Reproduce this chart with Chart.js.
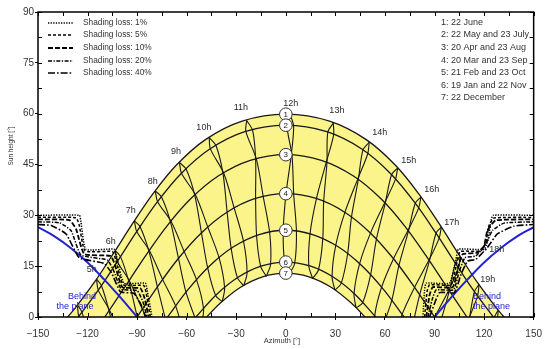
<!DOCTYPE html>
<html>
<head>
<meta charset="utf-8">
<script src="https://cdn.jsdelivr.net/npm/chart.js@4.4.1/dist/chart.umd.min.js"></script>
<style>
  html, body { margin: 0; padding: 0; background: #fff; }
</style>
</head>
<body>
<canvas id="chart" width="550" height="349"></canvas>
<script>
"use strict";

// sun paths, [azimuth, height] in degrees
const pathJune = [[-132.1,0],[-127.3,2.75],[-115.74,10.33],[-104.43,18.68],[-92.9,27.46],[-80.48,36.33],[-66.2,44.84],[-48.66,52.34],[-26.45,57.79],[0,59.84],[26.45,57.79],[48.66,52.34],[66.2,44.84],[80.48,36.33],[92.9,27.46],[104.43,18.68],[115.74,10.33],[127.3,2.75],[132.1,0]];
const pathMay = [[-125.6,0],[-113.83,7.69],[-102.31,16.14],[-90.59,24.96],[-77.99,33.81],[-63.61,42.2],[-46.24,49.48],[-24.83,54.67],[0,56.6],[24.83,54.67],[46.24,49.48],[63.61,42.2],[77.99,33.81],[90.59,24.96],[102.31,16.14],[113.83,7.69],[125.6,0]];
const pathApr = [[-109.6,0],[-96.89,9.24],[-84.82,18.12],[-71.98,26.83],[-57.62,34.87],[-40.94,41.61],[-21.51,46.24],[0,47.9],[21.51,46.24],[40.94,41.61],[57.62,34.87],[71.98,26.83],[84.82,18.12],[96.89,9.24],[109.6,0]];
const pathMar = [[-90,0],[-77.83,8.84],[-65.07,17.26],[-51.16,24.81],[-35.65,30.92],[-18.41,34.98],[0,36.4],[18.41,34.98],[35.65,30.92],[51.16,24.81],[65.07,17.26],[77.83,8.84],[90,0]];
const pathFeb = [[-71.6,0],[-59.22,8.09],[-46.02,15.15],[-31.68,20.73],[-16.2,24.34],[0,25.6],[16.2,24.34],[31.68,20.73],[46.02,15.15],[59.22,8.09],[71.6,0]];
const pathJan = [[-54.4,0],[-41.92,6.66],[-28.64,11.79],[-14.57,15.07],[0,16.2],[14.57,15.07],[28.64,11.79],[41.92,6.66],[54.4,0]];
const pathDec = [[-47.9,0],[-40.55,3.71],[-27.65,8.7],[-14.04,11.86],[0,12.96],[14.04,11.86],[27.65,8.7],[40.55,3.71],[47.9,0]];

// hour lines: first half of the year, second half of the year (June -> December)
const hour4 = [
  [[-126.11,3.53],[-123.39,1.44],[-119.29,-6.28]],
  [[-126.11,3.53],[-125.31,0.18],[-119.0,-6.09]]
];
const hour5 = [
  [[-114.57,11.19],[-111.64,9.3],[-107.03,1.87],[-102.09,-8.78]],
  [[-114.57,11.19],[-113.52,7.92],[-106.75,2.07],[-99.01,-6.54]]
];
const hour6 = [
  [[-103.24,19.59],[-100.08,17.82],[-95.08,10.57],[-89.92,0.06],[-84.7,-9.5]],
  [[-103.24,19.59],[-102.0,16.38],[-94.8,10.78],[-86.84,2.3],[-78.8,-5.23]]
];
const hour7 = [
  [[-91.62,28.38],[-88.2,26.64],[-82.89,19.43],[-77.74,8.9],[-72.75,-0.84]],
  [[-91.62,28.38],[-90.25,25.2],[-82.59,19.63],[-74.51,11.03],[-66.68,3.21],[-61.84,-4.86]]
];
const hour8 = [
  [[-79.0,37.21],[-75.26,35.4],[-69.83,28.04],[-64.98,17.31],[-60.42,7.31],[-54.92,-0.33]],
  [[-79.0,37.21],[-77.61,34.03],[-69.49,28.22],[-61.45,19.22],[-53.98,10.89],[-49.8,2.46],[-50.76,-1.72]]
];
const hour9 = [
  [[-64.39,45.61],[-60.31,43.58],[-55.12,35.88],[-51.06,24.85],[-47.3,14.47],[-42.5,6.35],[-38.49,4.51]],
  [[-64.39,45.61],[-63.15,42.39],[-54.73,36.04],[-47.13,26.4],[-40.33,17.36],[-37.05,8.54],[-38.49,4.51]]
];
const hour10 = [
  [[-46.37,52.9],[-42.17,50.47],[-38.03,42.3],[-35.53,30.95],[-33.07,20.19],[-29.26,11.55],[-25.47,9.21]],
  [[-46.37,52.9],[-45.67,49.62],[-37.57,42.41],[-31.17,31.98],[-25.54,22.16],[-23.48,12.99],[-25.47,9.21]]
];
const hour11 = [
  [[-23.72,58.0],[-20.11,55.04],[-18.28,46.49],[-18.29,34.99],[-17.7,23.99],[-15.23,14.92],[-11.79,12.04]],
  [[-23.72,58.0],[-24.17,54.72],[-17.78,46.53],[-13.62,35.35],[-9.77,24.84],[-9.23,15.48],[-11.79,12.04]]
];
const hour12 = [
  [[2.73,59.63],[4.72,56.23],[3.23,47.65],[0.12,36.39],[-1.57,25.48],[-0.68,16.15],[2.25,12.78]],
  [[2.73,59.63],[0.66,56.55],[3.73,47.61],[4.79,36.03],[6.43,25.1],[5.34,15.79],[2.25,12.78]]
];
const hour13 = [
  [[28.74,57.23],[28.9,53.68],[24.42,45.55],[18.53,34.95],[14.63,24.46],[13.89,15.12],[16.22,11.35]],
  [[28.74,57.23],[25.4,54.53],[24.88,45.44],[22.89,33.92],[22.34,22.91],[19.73,13.87],[16.22,11.35]]
];
const hour14 = [
  [[50.47,51.57],[49.54,48.1],[43.44,40.6],[35.75,30.88],[30.18,21.08],[27.98,11.94],[29.71,7.9]],
  [[50.47,51.57],[46.7,49.29],[43.83,40.44],[39.68,29.33],[37.37,18.52],[33.51,9.91],[29.71,7.9]]
];
const hour15 = [
  [[67.68,43.96],[66.34,40.61],[59.77,33.66],[51.25,24.76],[44.63,15.69],[41.3,6.9],[42.49,2.68]],
  [[67.68,43.96],[63.99,41.98],[60.11,33.48],[54.78,22.85],[51.26,12.35],[46.49,4.23],[42.49,2.68]]
];
const hour16 = [
  [[81.76,35.41],[80.38,32.13],[73.91,25.52],[65.16,17.2],[57.94,8.77],[53.79,0.34],[54.6,-3.95]],
  [[81.76,35.41],[78.33,33.57],[74.21,25.32],[68.39,15.07],[64.13,4.88],[58.7,-2.8]]
];
const hour17 = [
  [[94.09,26.55],[92.82,23.28],[86.63,16.79],[77.91,8.78],[70.39,0.78],[65.62,-7.33]],
  [[94.09,26.55],[90.9,24.72],[86.91,16.58],[80.99,6.54],[76.33,-3.44]]
];
const hour18 = [
  [[105.6,17.82],[104.5,14.53],[98.68,7.94],[90.08,-0.06]],
  [[105.6,17.82],[102.62,15.91],[98.96,7.74],[93.16,-2.3]]
];
const hour19 = [
  [[116.93,9.55],[116.07,6.22],[110.67,-0.64]],
  [[116.93,9.55],[114.15,7.48],[110.96,-0.83]]
];
const hour20 = [
  [[128.56,2.08],[128.0,-1.29]],
  [[128.56,2.08],[125.96,-0.21]]
];

// shading loss horizons, left and right
const loss1Left  = [[-150,30],[-125,30],[-124,28],[-121,20],[-104,20],[-102.5,18],[-98,10],[-85,10],[-84,8],[-81,0]];
const loss5Left  = [[-150,29.4],[-127,29.3],[-125,27],[-121.5,19.5],[-105,19.3],[-103,17],[-98.5,9.5],[-86,9.3],[-84.5,7],[-82,0]];
const loss10Left = [[-150,28.8],[-131,28.6],[-127,26],[-122,18.6],[-106,18],[-103.5,15.5],[-99,8.8],[-88,8.5],[-85.5,5.5],[-83,0]];
const loss20Left = [[-150,28.1],[-137,27.8],[-130,25.5],[-124,18.3],[-108,16.8],[-104.5,14],[-99.5,8.2],[-90,7.8],[-86.5,4.5],[-84,0]];
const loss40Left = [[-150,27.3],[-142,27],[-133,24.5],[-125,17.5],[-110,15.8],[-105.5,13],[-100,7.4],[-92,7],[-87.5,3.5],[-85,0]];
const loss1Right  = [[83,0],[84,8],[85,10],[99,10],[103,17],[104.5,20],[120,20],[122.5,23],[124,28],[125.5,30],[150,30]];
const loss5Right  = [[84,0],[85.5,7.5],[87,9.5],[100,9.5],[103.5,16],[105.5,19.3],[118,19.5],[121,22],[123,27],[126,29.2],[150,29.4]];
const loss10Right = [[85,0],[87,6.5],[89,8.8],[101,8.8],[104.5,15],[107,18.5],[116,19],[120,21],[122,25.5],[127,28.5],[150,28.8]];
const loss20Right = [[86,0],[88.5,5],[91,8],[101.5,8],[105,13.5],[108.5,17.5],[115,18],[121,21.5],[125,25.5],[132,27.7],[150,28.1]];
const loss40Right = [[87,0],[90,4],[93,7.2],[102,7.2],[106,12.5],[110,16.5],[115,17],[122,20.5],[128,24.5],[138,26.8],[150,27.3]];
const lossLabels = ['Shading loss: 1%','Shading loss: 5%','Shading loss: 10%','Shading loss: 20%','Shading loss: 40%'];

// limit where the sun is behind the plane
const behindLeft  = [[-150,26.5],[-140,23.8],[-130,20.3],[-120,16.1],[-110,11.1],[-100,5.7],[-90,0]];
const behindRight = [[90,0],[100,5.7],[110,11.1],[120,16.1],[130,20.3],[140,23.8],[150,26.5]];

// noon markers
const dayNumbers = ['1','2','3','4','5','6','7'];
const noonHeights = [59.84,56.6,47.9,36.4,25.6,16.2,12.96];
const dayLabels = ['1: 22 June','2: 22 May and 23 July','3: 20 Apr and 23 Aug','4: 20 Mar and 23 Sep','5: 21 Feb and 23 Oct','6: 19 Jan and 22 Nov','7: 22 December'];

const hourNames = ['5h','6h','7h','8h','9h','10h','11h','12h','13h','14h','15h','16h','17h','18h','19h'];
const hourNameSpots = [[-117.4,13.9],[-105.9,22.4],[-93.8,31.3],[-80.5,40.1],[-66.5,48.7],[-49.6,55.8],[-27.2,61.7],[3.0,62.9],[30.9,60.8],[56.9,54.3],[74.4,46.3],[88.3,37.5],[100.4,28.0],[127.6,19.8],[122.2,11.2]];

const FONT = "'Liberation Sans', Arial, sans-serif";
const YELLOW = '#faf48a';
const BLUE = '#2323d2';
const lossDash = [[1.3,1.3],[3,2],[5,2],[4,1.5,1.3,1.5],[7,2,1.6,2]];
const lossWidth = [1.5,1.5,1.8,1.5,1.6];

const xy = pts => pts.map(p => ({x: p[0], y: p[1]}));

const datasets = [];

function line(pts, extra) {
  return Object.assign({
    data: xy(pts),
    borderColor: '#181818',
    borderWidth: 1.2,
    pointRadius: 0,
    tension: 0.35,
    fill: false,
    order: 1
  }, extra || {});
}

datasets.push(line(pathJune, {fill: 'origin', backgroundColor: YELLOW, order: 5, borderWidth: 1.3}));
datasets.push(line(pathDec, {fill: 'origin', backgroundColor: '#ffffff', order: 4, borderWidth: 1.3}));
[pathMay, pathApr, pathMar, pathFeb, pathJan].forEach(p => datasets.push(line(p, {borderWidth: 1.3})));

[hour4, hour5, hour6, hour7, hour8, hour9, hour10, hour11, hour12, hour13, hour14, hour15, hour16, hour17, hour18, hour19, hour20]
  .forEach(h => h.forEach(p => datasets.push(line(p, {tension: 0.3, borderWidth: 1.1}))));

const lossLeft = [loss1Left, loss5Left, loss10Left, loss20Left, loss40Left];
const lossRight = [loss1Right, loss5Right, loss10Right, loss20Right, loss40Right];
lossLeft.forEach((p, i) => datasets.push(line(p, {borderColor: '#000', borderWidth: lossWidth[i], borderDash: lossDash[i], tension: 0.15, order: 0})));
lossRight.forEach((p, i) => datasets.push(line(p, {borderColor: '#000', borderWidth: lossWidth[i], borderDash: lossDash[i], tension: 0.15, order: 0})));

datasets.push(line(behindLeft, {borderColor: BLUE, borderWidth: 2, tension: 0.4, order: 0}));
datasets.push(line(behindRight, {borderColor: BLUE, borderWidth: 2, tension: 0.4, order: 0}));

datasets.push({
  data: noonHeights.map(h => ({x: 0, y: h})),
  showLine: false,
  pointRadius: 6.3,
  pointBackgroundColor: '#ffffff',
  pointBorderColor: '#333',
  pointBorderWidth: 1,
  order: -1
});

const overlay = {
  id: 'overlay',
  afterDatasetsDraw(chart) {
    const {ctx, chartArea: a, scales: {x, y}} = chart;
    ctx.save();

    // numbers in the noon markers
    ctx.fillStyle = '#222';
    ctx.font = '8px ' + FONT;
    ctx.textAlign = 'center';
    ctx.textBaseline = 'middle';
    noonHeights.forEach((h, i) => ctx.fillText(dayNumbers[i], x.getPixelForValue(0), y.getPixelForValue(h) + 0.5));

    // hour labels
    ctx.font = '9px ' + FONT;
    ctx.fillStyle = '#2a2a2a';
    hourNames.forEach((t, i) => ctx.fillText(t, x.getPixelForValue(hourNameSpots[i][0]), y.getPixelForValue(hourNameSpots[i][1])));

    // behind the plane
    ctx.fillStyle = BLUE;
    ctx.fillText('Behind', x.getPixelForValue(-123.4), y.getPixelForValue(5.9));
    ctx.fillText('the plane', x.getPixelForValue(-127.6), y.getPixelForValue(3.2));
    ctx.textAlign = 'left';
    ctx.fillText('Behind', 473, y.getPixelForValue(5.9));
    ctx.fillText('the plane', 473, y.getPixelForValue(3.2));

    // shading legend
    ctx.fillStyle = '#333';
    ctx.font = '8.3px ' + FONT;
    const ly = [23, 35, 48, 61, 73];
    lossLabels.forEach((t, i) => {
      ctx.strokeStyle = '#000';
      ctx.lineWidth = lossWidth[i];
      ctx.setLineDash(lossDash[i]);
      ctx.beginPath();
      ctx.moveTo(48, ly[i]);
      ctx.lineTo(73, ly[i]);
      ctx.stroke();
      ctx.fillText(t, 83, ly[i]);
    });
    ctx.setLineDash([]);

    // date legend
    ctx.font = '9px ' + FONT;
    const dy = [23, 35, 48, 61, 73, 86, 98];
    dayLabels.forEach((t, i) => ctx.fillText(t, 441, dy[i]));

    // frame with inner ticks
    ctx.strokeStyle = '#000';
    ctx.lineWidth = 1.5;
    ctx.strokeRect(a.left, a.top, a.right - a.left, a.bottom - a.top);
    ctx.lineWidth = 1;
    ctx.beginPath();
    for (let v = -150; v <= 150; v += 15) {
      const px = Math.round(x.getPixelForValue(v)) + 0.5;
      ctx.moveTo(px, a.bottom); ctx.lineTo(px, a.bottom - 4);
      ctx.moveTo(px, a.top); ctx.lineTo(px, a.top + 4);
    }
    for (let v = 0; v <= 90; v += 7.5) {
      const py = Math.round(y.getPixelForValue(v)) + 0.5;
      ctx.moveTo(a.left, py); ctx.lineTo(a.left + 4, py);
      ctx.moveTo(a.right, py); ctx.lineTo(a.right - 4, py);
    }
    ctx.stroke();

    // axis titles
    ctx.fillStyle = '#333';
    ctx.textAlign = 'center';
    ctx.font = '7.5px ' + FONT;
    ctx.fillText('Azimuth [°]', 282, 341);
    ctx.translate(11, 146);
    ctx.rotate(-Math.PI / 2);
    ctx.font = '6.5px ' + FONT;
    ctx.fillText('Sun height [°]', 0, 0);
    ctx.restore();
  }
};

const minus = v => (v < 0 ? '\u2212' + Math.abs(v) : String(v));

new Chart(document.getElementById('chart'), {
  type: 'line',
  data: {datasets},
  options: {
    responsive: false,
    animation: false,
    devicePixelRatio: 1,
    layout: {padding: {top: 12, right: 16, bottom: 0, left: 0}},
    plugins: {legend: {display: false}, tooltip: {enabled: false}},
    scales: {
      x: {
        type: 'linear', min: -150, max: 150,
        ticks: {stepSize: 30, color: '#333', font: {size: 10, family: FONT}, padding: 8, callback: minus, maxRotation: 0},
        grid: {drawOnChartArea: false, tickLength: 3, color: '#000'},
        border: {display: false},
        afterFit(s) { s.height = 32; }
      },
      y: {
        min: 0, max: 90,
        ticks: {stepSize: 15, color: '#333', font: {size: 10, family: FONT}, padding: 1},
        grid: {drawOnChartArea: false, tickLength: 3, color: '#000'},
        border: {display: false},
        afterFit(s) { s.width = 38; }
      }
    }
  },
  plugins: [overlay]
});
</script>
</body>
</html>
